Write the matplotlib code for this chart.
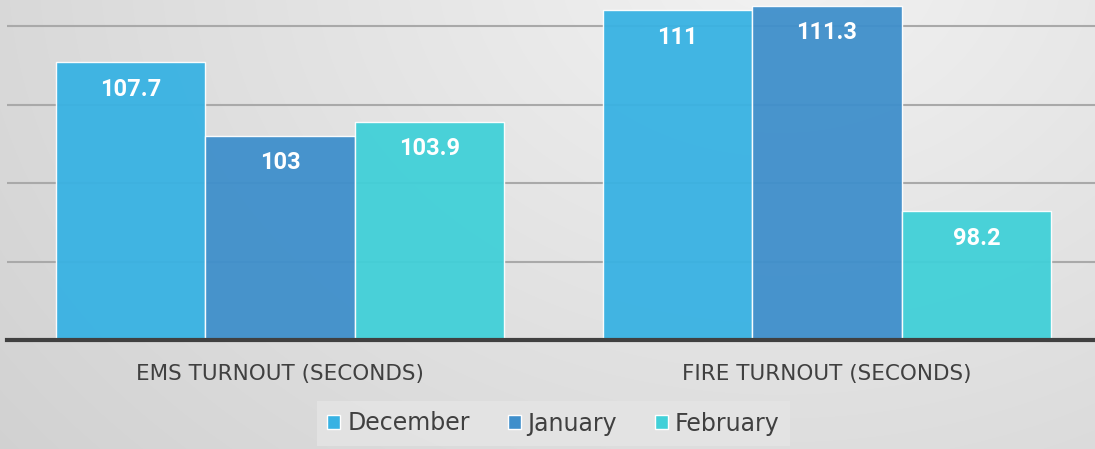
import numpy as np
import matplotlib
matplotlib.use("Agg")
from matplotlib import pyplot as plt
from matplotlib.patches import Patch

# Data
categories = ["EMS TURNOUT (SECONDS)", "FIRE TURNOUT (SECONDS)"]
months = ["December", "January", "February"]
december = [107.7, 111.0]
january = [103.0, 111.3]
february = [103.9, 98.2]
labels = [["107.7", "111"], ["103", "111.3"], ["103.9", "98.2"]]

colors = ["#38b2e3", "#3f8fcb", "#41d0d8"]

W, H = 1095, 449
fig = plt.figure(figsize=(W / 100, H / 100), dpi=100)

# background gradient
bg = fig.add_axes([0, 0, 1, 1], zorder=-10)
yy, xx = np.mgrid[0:H, 0:W]
d = np.sqrt(((xx - 780) / 900.0) ** 2 + ((yy + 40) / 700.0) ** 2)
shade = 0.95 - 0.15 * np.clip(d, 0, 1.3) / 1.3
bg.imshow(np.dstack([shade] * 3), aspect="auto", extent=[0, 1, 0, 1])
bg.axis("off")

ax = fig.add_axes([6.5 / W, (H - 340) / H, 1094 / W, (340 + 52.5) / H])
ax.patch.set_alpha(0)

x = np.arange(len(categories))
bw = 0.82 / 3
series = [december, january, february]
for i, vals in enumerate(series):
    pos = x + (i - 1) * bw
    bars = ax.bar(pos, np.array(vals) - 90, bottom=90, width=bw, color=colors[i],
                  edgecolor="white", linewidth=1, alpha=0.95, zorder=3)
    for j, b in enumerate(bars):
        ax.annotate(labels[i][j], (b.get_x() + b.get_width() / 2, vals[j]),
                    xytext=(0, -27), textcoords="offset pixels",
                    ha="center", va="center", color="white", fontsize=17,
                    fontweight="bold", family="Roboto", zorder=5)

ax.set_xlim(-0.5, 1.5)
ax.set_ylim(90, 115)
ax.set_yticks([95, 100, 105, 110])
ax.yaxis.grid(True, color="#a9a9a9", linewidth=1.5, zorder=0)
ax.set_axisbelow(True)
ax.tick_params(left=False, labelleft=False, bottom=False)
for s in ["top", "right", "left"]:
    ax.spines[s].set_visible(False)
ax.spines["bottom"].set_color("#404040")
ax.spines["bottom"].set_linewidth(3)
ax.spines["bottom"].set_zorder(6)
ax.set_xticks(x)
ax.set_xticklabels(categories, fontsize=15.5, color="#404040", family="DejaVu Sans")
ax.tick_params(axis="x", pad=14)

handles = [Patch(facecolor=c, edgecolor="white", linewidth=1) for c in colors]
leg = fig.legend(handles, months, loc="center", bbox_to_anchor=(553.5 / W, 1 - 423.5 / H),
                 ncol=3, frameon=True, prop={"family": "DejaVu Sans", "size": 17},
                 handlelength=0.55, handleheight=0.55, handletextpad=0.3, columnspacing=1.6,
                 borderpad=0.45, borderaxespad=0, fancybox=False)
leg.get_frame().set_facecolor("#e4e4e4")
leg.get_frame().set_edgecolor("none")
leg.get_frame().set_alpha(0.9)
for t in leg.get_texts():
    t.set_color("#404040")

fig.savefig("out.png", dpi=100)
